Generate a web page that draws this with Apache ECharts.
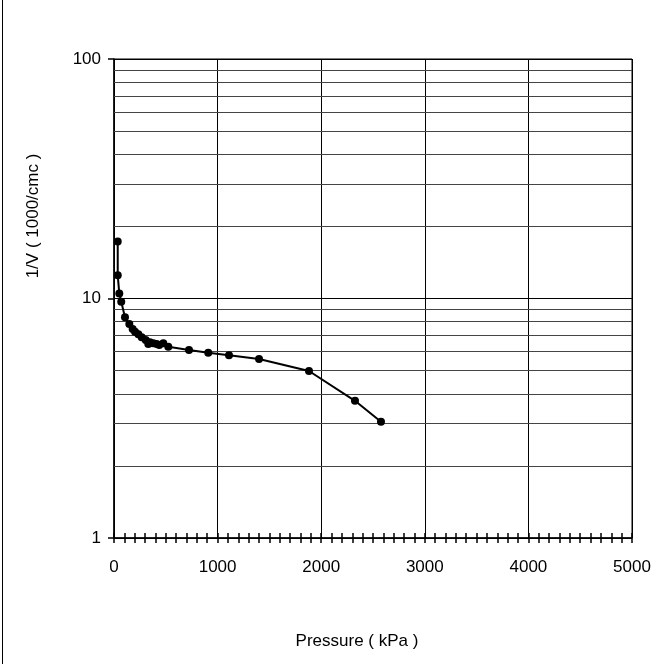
<!DOCTYPE html>
<html>
<head>
<meta charset="utf-8">
<script src="https://cdn.jsdelivr.net/npm/echarts@6/dist/echarts.min.js"></script>
<style>
  html, body { margin: 0; padding: 0; background: #fff; }
  #chart { width: 663px; height: 664px; }
</style>
</head>
<body>
<div id="chart"></div>
<script>
// pressure (kPa) and 1/V (1000/cmc)
var pressure = [36, 36, 51, 70, 106, 148, 180, 203, 235, 267, 306, 331, 347, 379, 412, 437, 476, 524, 724, 910, 1110, 1400, 1882, 2326, 2577];
var invVolume = [17.3, 12.5, 10.5, 9.7, 8.35, 7.83, 7.46, 7.27, 7.09, 6.89, 6.71, 6.46, 6.56, 6.5, 6.46, 6.4, 6.5, 6.29, 6.1, 5.94, 5.79, 5.59, 4.98, 3.74, 3.06];
var minorGridValues = [2, 3, 4, 5, 6, 7, 8, 9, 20, 30, 40, 50, 60, 70, 80, 90];

var points = [];
for (var n = 0; n < pressure.length; n++) {
	points.push([pressure[n], invVolume[n]]);
}

var myChart = echarts.init(document.getElementById('chart'));
var font = 'Liberation Sans, Arial, sans-serif';

var option = {
	animation : false,
	backgroundColor : '#fff',
	grid : {
		left : 114,
		top : 59,
		width : 518,
		height : 479,
		show : true,
		borderColor : '#000',
		borderWidth : 1
	},
	xAxis : [ {
		type : 'value',
		min : 0,
		max : 5000,
		interval : 1000,
		axisLine : { lineStyle : { color : '#000', width : 1.5 } },
		axisTick : { show : true, length : 5, lineStyle : { color : '#000', width : 1.5 } },
		minorTick : { show : true, splitNumber : 10, length : 5, lineStyle : { color : '#000', width : 1.5 } },
		axisLabel : { color : '#000', fontSize : 17, fontFamily : font, margin : 21,
			formatter : function(v) { return String(v); } },
		splitLine : { show : true, lineStyle : { color : '#000', width : 1 } }
	}, {
		type : 'value',
		position : 'bottom',
		min : 0,
		max : 5000,
		interval : 1000,
		axisLine : { show : false },
		axisTick : { show : true, inside : true, length : 5, lineStyle : { color : '#000', width : 1.5 } },
		minorTick : { show : true, splitNumber : 10, length : 5, lineStyle : { color : '#000', width : 1.5 } },
		axisLabel : { show : false },
		splitLine : { show : false }
	} ],
	yAxis : {
		type : 'log',
		logBase : 10,
		min : 1,
		max : 100,
		axisLine : { show : true, lineStyle : { color : '#000', width : 1.5 } },
		axisTick : { show : true, length : 6, lineStyle : { color : '#000', width : 1.5 } },
		axisLabel : { color : '#000', fontSize : 17, fontFamily : font, margin : 13 },
		splitLine : { show : true, lineStyle : { color : '#000', width : 1 } }
	},
	series : [ {
		type : 'line',
		data : [],
		z : 1,
		silent : true,
		markLine : {
			silent : true,
			symbol : 'none',
			label : { show : false },
			lineStyle : { color : '#444', width : 1, type : 'solid' },
			data : minorGridValues.map(function(v) { return { yAxis : v }; })
		}
	}, {
		type : 'line',
		data : points,
		z : 5,
		symbol : 'circle',
		symbolSize : 8,
		itemStyle : { color : '#000' },
		lineStyle : { color : '#000', width : 2 }
	} ],
	graphic : [ {
		type : 'line',
		shape : { x1 : 2.5, y1 : 0, x2 : 2.5, y2 : 664 },
		style : { stroke : '#000', lineWidth : 1 }
	}, {
		type : 'text',
		x : 33,
		y : 216,
		rotation : Math.PI / 2,
		style : {
			text : '1/V ( 1000/cmc )',
			fill : '#000',
			font : '17px ' + font,
			align : 'center',
			verticalAlign : 'middle'
		}
	}, {
		type : 'text',
		x : 357,
		y : 641,
		style : {
			text : 'Pressure ( kPa )',
			fill : '#000',
			font : '17px ' + font,
			align : 'center',
			verticalAlign : 'middle'
		}
	} ]
};
myChart.setOption(option);
</script>
</body>
</html>
